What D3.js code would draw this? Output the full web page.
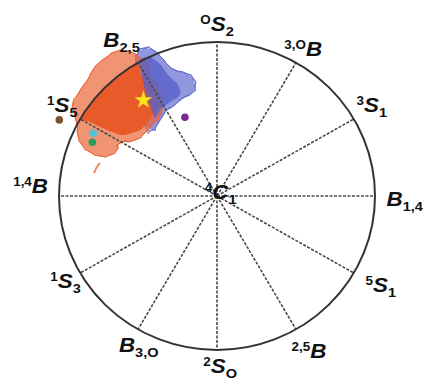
<!DOCTYPE html>
<html>
<head>
<meta charset="utf-8">
<script src="https://cdnjs.cloudflare.com/ajax/libs/d3/7.8.5/d3.min.js"></script>
<style>
  body { margin: 0; background: #fff; }
  text { font-family: "Liberation Sans", Arial, sans-serif; font-weight: bold; fill: #111; }
</style>
</head>
<body>
<svg id="chart" width="423" height="381"></svg>
<script>
// spokes of the Stoddart projection, degrees
const spokeAngles = [0, 30, 60, 90, 120, 150, 180, 210, 240, 270, 300, 330];

// conformer labels: superscript, letter, subscript, label angle, label distance (unit = circle radius)
const labelSup   = ['O', '3,O', '3', '',    '5', '2,5', '2', '',    '1', '1,4', '1', '',    '4'];
const labelMain  = ['S', 'B',   'S', 'B',   'S', 'B',   'S', 'B',   'S', 'B',   'S', 'B',   'C'];
const labelSub   = ['2', '',    '1', '1,4', '1', '',    'O', '3,O', '3', '',    '5', '2,5', '1'];
const labelAngle = [90, 59, 29, -3, -31, -61, -89, -116, -148, 179, 151, 122, -40];
const labelDist  = [1.07, 1.06, 1.12, 1.19, 1.21, 1.2, 1.15, 1.13, 1.13, 1.18, 1.12, 1.14, 0.03];

// trajectory clouds, outlines (unit-circle coordinates)
const orangeHalo = [
  [-0.696, 0.903], [-0.646, 0.935], [-0.582, 0.942], [-0.532, 0.929], [-0.487, 0.896],
  [-0.437, 0.857], [-0.424, 0.786], [-0.373, 0.701], [-0.348, 0.623], [-0.361, 0.526],
  [-0.411, 0.461], [-0.456, 0.409], [-0.519, 0.364], [-0.614, 0.344], [-0.633, 0.299],
  [-0.677, 0.266], [-0.741, 0.260], [-0.804, 0.286], [-0.854, 0.331], [-0.880, 0.396],
  [-0.886, 0.461], [-0.905, 0.545], [-0.911, 0.604], [-0.880, 0.662], [-0.848, 0.714],
  [-0.816, 0.760], [-0.785, 0.818], [-0.747, 0.864]
];
const orangeCore = [
  [-0.866, 0.500], [-0.819, 0.574], [-0.766, 0.643], [-0.707, 0.707], [-0.643, 0.766],
  [-0.574, 0.819], [-0.500, 0.866], [-0.487, 0.799], [-0.443, 0.734], [-0.405, 0.688],
  [-0.373, 0.623], [-0.392, 0.545], [-0.437, 0.481], [-0.487, 0.429], [-0.595, 0.396],
  [-0.696, 0.429], [-0.804, 0.481]
];
const orangeStray = [[-0.741, 0.214], [-0.766, 0.182], [-0.778, 0.149]];
const blueHalo = [
  [-0.500, 0.929], [-0.456, 0.961], [-0.405, 0.948], [-0.348, 0.896], [-0.310, 0.851],
  [-0.266, 0.818], [-0.203, 0.799], [-0.152, 0.766], [-0.139, 0.708], [-0.158, 0.669],
  [-0.215, 0.636], [-0.247, 0.610], [-0.285, 0.578], [-0.316, 0.558], [-0.348, 0.513],
  [-0.380, 0.461], [-0.405, 0.429], [-0.456, 0.461], [-0.475, 0.623], [-0.500, 0.786],
  [-0.513, 0.870]
];
const blueCore = [
  [-0.487, 0.883], [-0.424, 0.903], [-0.361, 0.857], [-0.310, 0.786], [-0.247, 0.721],
  [-0.234, 0.656], [-0.297, 0.610], [-0.361, 0.558], [-0.392, 0.506], [-0.424, 0.591],
  [-0.456, 0.688], [-0.475, 0.786]
];

// reference structures
const markerX     = [-0.998, -0.783, -0.789, -0.203];
const markerY     = [ 0.494,  0.407,  0.349,  0.511];
const markerColor = ['#7a5530', '#4cc3d6', '#2f9a5c', '#7b2b8c'];
const starPoint   = [-0.466, 0.623];

const svg = d3.select('#chart');
const cx = 217, cy = 196, rx = 158, ry = 154;

const x = d3.scaleLinear().domain([-1, 1]).range([cx - rx, cx + rx]);
const y = d3.scaleLinear().domain([-1, 1]).range([cy + ry, cy - ry]);
const rad = d => d * Math.PI / 180;

const area = d3.line().x(d => x(d[0])).y(d => y(d[1])).curve(d3.curveCardinalClosed.tension(0.3));
const fringe = t => d3.line().x(d => x(d[0])).y(d => y(d[1])).curve(d3.curveCardinalClosed.tension(t));
const fringeTensions = [-0.8, -1.6, -2.4];

// clouds
function cloud(halo, color, opacity) {
  svg.append('path').attr('d', area(halo))
    .attr('fill', color).attr('fill-opacity', opacity);
  fringeTensions.forEach(t => {
    svg.append('path').attr('d', fringe(t)(halo))
      .attr('fill', 'none').attr('stroke', color).attr('stroke-width', 0.7);
  });
}
cloud(blueHalo, '#5b66cc', 0.68);
cloud(orangeHalo, '#ea6232', 0.68);

svg.append('path').attr('d', area(orangeCore))
  .attr('fill', '#e95a2b');
svg.append('path').attr('d', area(blueCore))
  .attr('fill', '#5862c8').attr('fill-opacity', 0.8);
svg.append('path').attr('d', d3.line().x(d => x(d[0])).y(d => y(d[1])).curve(d3.curveBasis)(orangeStray))
  .attr('fill', 'none').attr('stroke', '#f08a66').attr('stroke-width', 2);

// spokes
svg.append('g').selectAll('line')
  .data(spokeAngles)
  .join('line')
    .attr('x1', x(0)).attr('y1', y(0))
    .attr('x2', d => x(Math.cos(rad(d))))
    .attr('y2', d => y(Math.sin(rad(d))))
    .attr('stroke', '#4a4a4a')
    .attr('stroke-width', 1.6)
    .attr('stroke-dasharray', '3,1.5');

// outer circle
svg.append('ellipse')
  .attr('cx', x(0)).attr('cy', y(0))
  .attr('rx', x(1) - x(0)).attr('ry', y(0) - y(1))
  .attr('fill', 'none').attr('stroke', '#333').attr('stroke-width', 2);

// markers
svg.append('g').selectAll('circle')
  .data(markerX)
  .join('circle')
    .attr('cx', d => x(d))
    .attr('cy', (d, i) => y(markerY[i]))
    .attr('r', 3.8)
    .attr('fill', (d, i) => markerColor[i]);

svg.append('path')
  .attr('d', d3.symbol(d3.symbolStar, 100)())
  .attr('transform', `translate(${x(starPoint[0])},${y(starPoint[1])})`)
  .attr('fill', '#f7e51c');

// labels
const labels = svg.append('g').selectAll('g')
  .data(labelMain)
  .join('g')
    .attr('transform', (d, i) => {
      const a = rad(labelAngle[i]), r = labelDist[i];
      return `translate(${x(r * Math.cos(a))},${y(r * Math.sin(a))}) scale(1.12,1)`;
    });

labels.each(function(d, i) {
  const t = d3.select(this).append('text').attr('text-anchor', 'middle');
  if (labelSup[i]) t.append('tspan').attr('font-size', 12).attr('dy', -7).text(labelSup[i]);
  t.append('tspan').attr('font-size', 20).attr('font-style', 'italic')
    .attr('dy', labelSup[i] ? 7 : 0).text(d);
  if (labelSub[i]) t.append('tspan').attr('font-size', 13).attr('dy', 5).text(labelSub[i]);
});
</script>
</body>
</html>
